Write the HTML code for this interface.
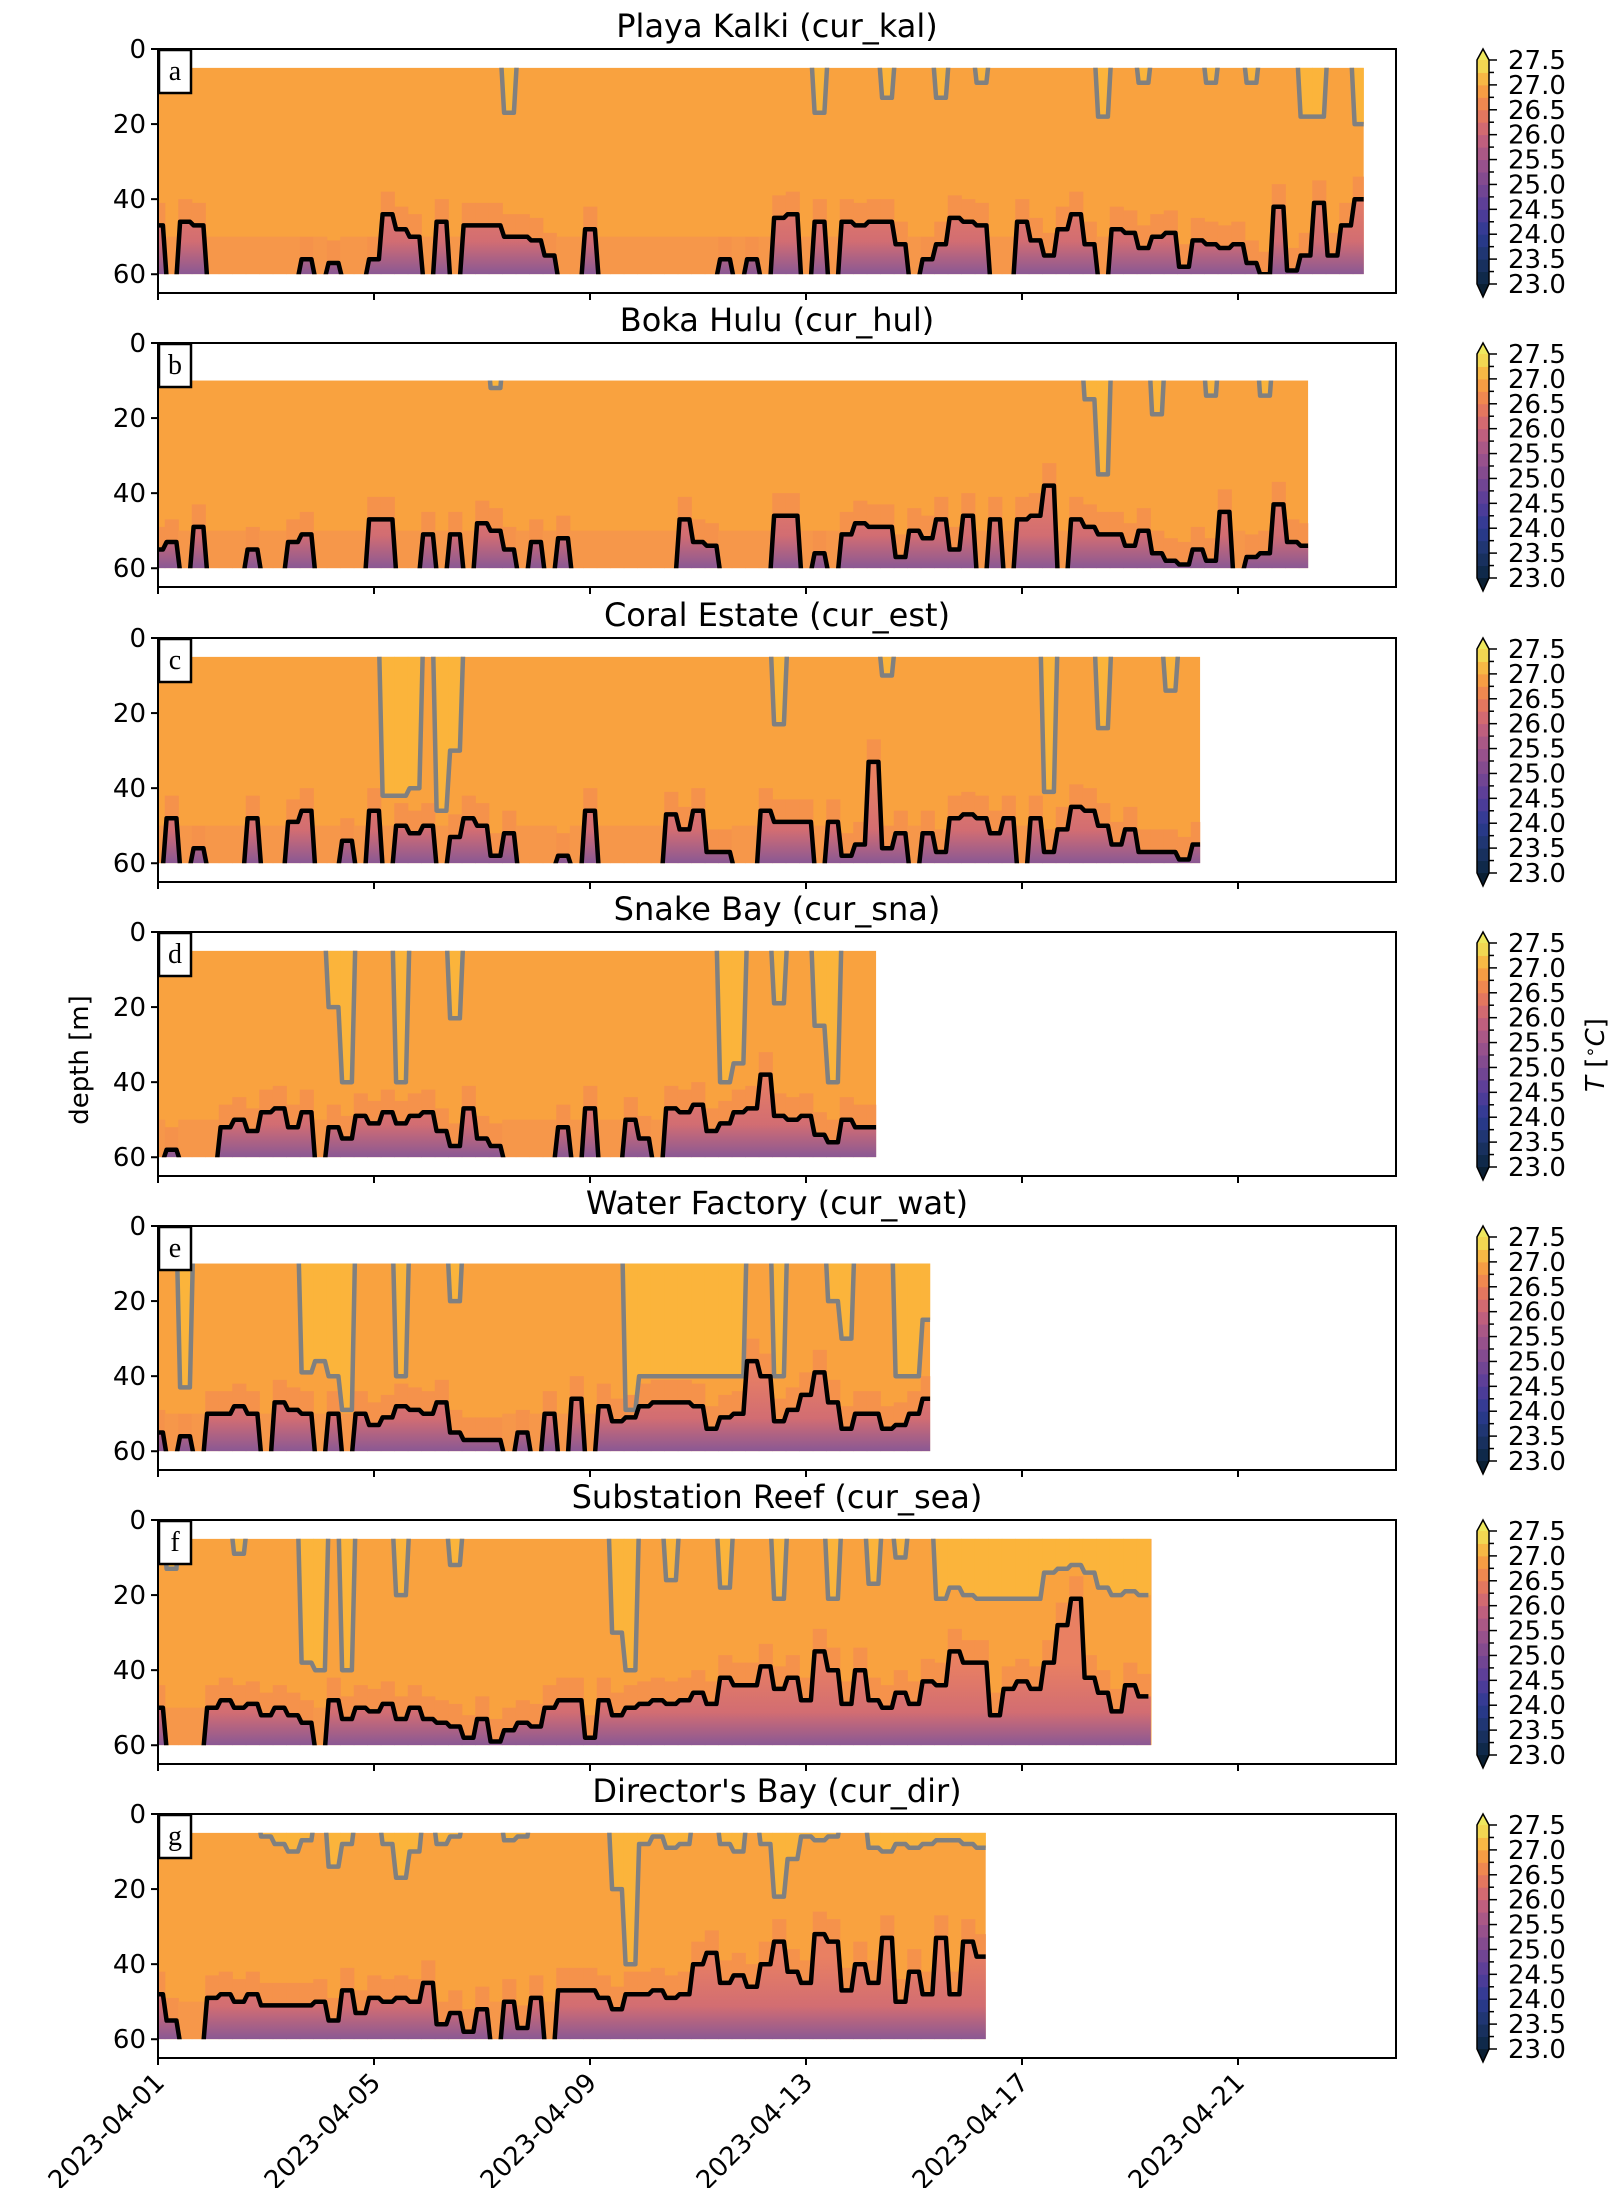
<!DOCTYPE html>
<html><head><meta charset="utf-8"><style>
html,body{margin:0;padding:0;background:#fff}
svg text{font-family:"DejaVu Sans","Liberation Sans",sans-serif;fill:#000}
</style></head><body>
<svg id="fig" xmlns="http://www.w3.org/2000/svg" width="1612" height="2188" viewBox="0 0 1612 2188"></svg>
<script>
// ---- data (depth in m; black = 26 C isotherm, 61 = absent; gray = 27 C isotherm, 0 = absent), 4 samples per day ----
const titles = ["Playa Kalki (cur_kal)","Boka Hulu (cur_hul)","Coral Estate (cur_est)","Snake Bay (cur_sna)","Water Factory (cur_wat)","Substation Reef (cur_sea)","Director's Bay (cur_dir)"];
const letters = ["a","b","c","d","e","f","g"];
const topDepths = [5,10,5,5,10,5,5];
const endDays = [22.33,21.3,19.3,13.3,14.3,18.4,15.33];
const blackA = [47,61,46,47,61,61,61,61,61,61,61,56,61,57,61,61,56,44,48,50,61,46,61,47,47,47,50,50,51,55,61,61,48,61,61,61,61,61,61,61,61,61,56,61,56,61,45,44,61,46,61,46,47,46,46,52,61,56,52,45,46,47,61,61,46,51,55,48,44,52,61,48,49,53,50,49,58,51,52,53,52,57,60,42,59,55,41,55,47,40];
const grayA = [0,0,0,0,0,0,0,0,0,0,0,0,0,0,0,0,0,0,0,0,0,0,0,0,0,0,17,0,0,0,0,0,0,0,0,0,0,0,0,0,0,0,0,0,0,0,0,0,0,17,0,0,0,0,13,0,0,0,13,0,0,9,0,0,0,0,0,0,0,0,18,0,0,9,0,0,0,0,9,0,0,9,0,0,0,18,18,0,0,20];
const blackB = [55,53,61,49,61,61,61,55,61,61,53,51,61,61,61,61,47,47,61,61,51,61,51,61,48,50,55,61,53,61,52,61,61,61,61,61,61,61,61,47,53,54,61,61,61,61,46,46,61,56,61,51,48,49,49,57,50,52,47,55,46,61,47,61,47,46,38,61,47,49,51,51,54,50,56,58,59,55,58,45,61,57,56,43,53,54];
const grayB = [0,0,0,0,0,0,0,0,0,0,0,0,0,0,0,0,0,0,0,0,0,0,0,0,0,12,0,0,0,0,0,0,0,0,0,0,0,0,0,0,0,0,0,0,0,0,0,0,0,0,0,0,0,0,0,0,0,0,0,0,0,0,0,0,0,0,0,0,0,15,35,0,0,0,19,0,0,0,14,0,0,0,14,0,0,0];
const blackC = [61,48,61,56,61,61,61,48,61,61,49,46,61,61,54,61,46,61,50,52,50,61,53,48,50,58,52,61,61,61,58,61,46,61,61,61,61,61,47,51,46,57,57,61,61,46,49,49,49,61,49,58,55,33,56,52,61,52,57,48,47,48,52,48,61,48,57,51,45,46,50,55,51,57,57,57,59,55];
const grayC = [0,0,0,0,0,0,0,0,0,0,0,0,0,0,0,0,0,42,42,40,0,46,30,0,0,0,0,0,0,0,0,0,0,0,0,0,0,0,0,0,0,0,0,0,0,0,23,0,0,0,0,0,0,0,10,0,0,0,0,0,0,0,0,0,0,0,41,0,0,0,24,0,0,0,0,14,0,0];
const blackD = [61,58,61,61,61,52,50,53,48,47,52,48,61,52,55,49,51,48,51,49,48,53,57,47,55,57,61,61,61,61,52,61,47,61,61,50,55,61,47,48,46,53,51,48,47,38,49,50,49,54,56,50,52,52];
const grayD = [0,0,0,0,0,0,0,0,0,0,0,0,0,20,40,0,0,0,40,0,0,0,23,0,0,0,0,0,0,0,0,0,0,0,0,0,0,0,0,0,0,0,40,35,0,0,19,0,0,25,40,0,0,0];
const blackE = [55,61,56,61,50,50,48,50,61,47,49,50,61,50,61,50,53,51,48,49,50,47,55,57,57,57,61,55,61,50,61,46,61,48,52,51,48,47,47,47,48,54,51,50,36,40,52,49,45,39,47,54,50,50,54,53,50,46];
const grayE = [0,0,43,0,0,0,0,0,0,0,0,39,36,40,49,0,0,0,40,0,0,0,20,0,0,0,0,0,0,0,0,0,0,0,0,49,40,40,40,40,40,40,40,40,0,0,40,0,0,0,20,30,0,0,0,40,40,25];
const blackF = [50,61,61,61,50,48,50,49,52,50,52,54,61,48,53,50,51,49,53,50,53,54,55,58,53,59,56,54,55,50,48,48,58,48,52,50,49,48,49,48,46,49,42,44,44,39,45,42,48,35,40,49,40,48,50,46,49,43,44,35,38,38,52,45,43,45,38,28,21,42,46,51,44,47];
const grayF = [0,13,0,0,0,0,9,0,0,0,0,38,40,0,40,0,0,0,20,0,0,0,12,0,0,0,0,0,0,0,0,0,0,0,30,40,0,0,16,0,0,0,18,0,0,0,21,0,0,0,21,0,0,17,0,10,0,0,21,18,20,21,21,21,21,21,14,13,12,14,18,20,19,20];
const blackG = [48,55,61,61,49,48,50,48,51,51,51,51,50,55,47,53,49,50,49,50,45,56,53,58,52,61,50,57,49,61,47,47,47,49,52,48,48,47,49,48,40,37,45,43,46,40,34,42,45,32,34,47,40,45,33,50,42,48,33,48,34,38];
const grayG = [0,0,0,0,0,0,0,0,6,8,10,7,0,14,8,0,0,8,17,10,0,8,6,0,0,0,7,6,0,0,0,0,0,0,20,40,8,6,9,8,0,0,8,10,0,8,22,12,6,7,6,0,0,9,10,8,9,8,7,7,8,9];
const blackSeries = [blackA,blackB,blackC,blackD,blackE,blackF,blackG];
const graySeries = [grayA,grayB,grayC,grayD,grayE,grayF,grayG];
const xTickDays = [0,4,8,12,16,20];
const xTickLabels = ["2023-04-01","2023-04-05","2023-04-09","2023-04-13","2023-04-17","2023-04-21"];
const yTicks = [0,20,40,60];
const cbarTicks = [23.0,23.5,24.0,24.5,25.0,25.5,26.0,26.5,27.0,27.5];

// ---- layout ----
const NS="http://www.w3.org/2000/svg";
const svg=document.getElementById('fig');
const X0=158, X1=1396, PXDAY=54, AH=244, YMAX=65;
const tops=[49,343,638,932,1226,1520,1814];
const xs=d=>X0+d*PXDAY;
function mk(tag,attrs,parent){const e=document.createElementNS(NS,tag);for(const k in attrs)e.setAttribute(k,attrs[k]);(parent||svg).appendChild(e);return e;}
const defs=mk('defs',{});
const stops=[[23,'#0b2540'],[23.5,'#1c3468'],[24,'#2c3a92'],[24.5,'#553c9a'],[25,'#7a4890'],[25.5,'#a0548a'],[26,'#c9637a'],[26.5,'#ec7d56'],[27,'#f9a83e'],[27.5,'#f0e658']];
function hex(c){return [1,3,5].map(i=>parseInt(c.substr(i,2),16));}
function cmap(v){for(let i=0;i<stops.length-1;i++){if(v<=stops[i+1][0]){const t=(v-stops[i][0])/(stops[i+1][0]-stops[i][0]);const a=hex(stops[i][1]),b=hex(stops[i+1][1]);return 'rgb('+a.map((x,j)=>Math.round(x+(b[j]-x)*t)).join(',')+')';}}return stops[stops.length-1][1];}
// step-mid path through samples (vertical transitions between samples)
function stepPath(arr,ys,end){
  const q=0.25, w=0.09;
  let d='';
  arr.forEach((v,i)=>{
    const t=i*q;
    const a=Math.max(0,t-w), b=Math.min(end,t+w);
    d+=(i===0?'M':'L')+xs(a).toFixed(1)+','+ys(v).toFixed(1)+' L'+xs(b).toFixed(1)+','+ys(v).toFixed(1)+' ';
  });
  return d;
}

tops.forEach((T,p)=>{
  const ys=d=>T+d*AH/YMAX;
  const g=mk('g',{});
  
  
  const tt=mk('text',{x:(X0+X1)/2,y:T-12,'text-anchor':'middle','font-size':32},g);
  tt.textContent=titles[p];
  
  
  const top=topDepths[p], end=endDays[p];
  const cp=mk('clipPath',{id:'clip'+p},defs);
  mk('rect',{x:xs(0),y:ys(top),width:xs(end)-xs(0),height:ys(60)-ys(top)},cp);
  const gr=mk('linearGradient',{id:'deep'+p,gradientUnits:'userSpaceOnUse',x1:0,x2:0,y1:ys(38),y2:ys(60)},defs);
  mk('stop',{offset:'0','stop-color':'#e98062'},gr);
  mk('stop',{offset:'0.6','stop-color':'#d26d72'},gr);
  mk('stop',{offset:'1','stop-color':'#8a5894'},gr);
  const hm=mk('g',{'clip-path':'url(#clip'+p+')'},g);
  
  
  mk('rect',{x:xs(0),y:ys(top),width:xs(end)-xs(0),height:ys(60)-ys(top),fill:'#f9a23f'},hm);
  const bl=blackSeries[p], gy=graySeries[p];
  const cw=PXDAY/4;
  bl.forEach((v,i)=>{
    const cx=xs(i/4)-cw/2;
    if(gy[i]>top){mk('rect',{x:cx,y:ys(top),width:cw+0.6,height:ys(gy[i])-ys(top),fill:'#fbb43b'},hm);}
    if(v<=60){
      mk('rect',{x:cx,y:ys(v-6),width:cw+0.6,height:ys(v)-ys(v-6),fill:'#f5924b'},hm);
      mk('rect',{x:cx,y:ys(v),width:cw+0.6,height:ys(60)-ys(v),fill:'url(#deep'+p+')'},hm);
    } else {
      mk('rect',{x:cx,y:ys(50),width:cw+0.6,height:ys(60)-ys(50),fill:'#f6974a'},hm);
    }
  });
  const lg=mk('g',{'clip-path':'url(#clip'+p+')'},g);
  const gl=mk('path',{d:stepPath(gy,ys,end),fill:'none',stroke:'#808080','stroke-width':4.5,'stroke-linejoin':'round'},lg);
  
  
  const bk=mk('path',{d:stepPath(bl,ys,end),fill:'none',stroke:'#000','stroke-width':4.5,'stroke-linejoin':'round'},lg);
  
  
  const fr=mk('rect',{x:X0,y:T,width:X1-X0,height:AH,fill:'none',stroke:'#000','stroke-width':2},g);
  
  
  yTicks.forEach(d=>{
    mk('line',{x1:X0-7,x2:X0,y1:ys(d),y2:ys(d),stroke:'#000','stroke-width':2},g);
    const t=mk('text',{x:X0-12,y:ys(d)+9,'text-anchor':'end','font-size':26},g);
    t.textContent=d;
    
    
  });
  xTickDays.forEach(d=>{mk('line',{x1:xs(d),x2:xs(d),y1:T+AH,y2:T+AH+7,stroke:'#000','stroke-width':2},g);});
  const lb=mk('g',{},g);
  
  
  mk('rect',{x:X0+1,y:T+1,width:32,height:43,fill:'#fff',stroke:'#000','stroke-width':2.5},lb);
  const lt=mk('text',{x:X0+17,y:T+31,'text-anchor':'middle','font-size':28},lb);
  lt.setAttribute('style','font-family:"Liberation Serif","DejaVu Serif",serif');
  lt.textContent=letters[p];
  const cb=mk('g',{},g);
  
  
  const cx0=1477,cx1=1489,cy0=T+11,cy1=T+235;
  const cy=v=>cy1-(v-23)/4.5*(cy1-cy0);
  for(let k=0;k<18;k++){const v0=23+k*0.25;mk('rect',{x:cx0,y:cy(v0+0.25),width:cx1-cx0,height:cy(v0)-cy(v0+0.25)+0.5,fill:cmap(v0+0.125)},cb);}
  mk('polygon',{points:`${cx0},${cy0} ${(cx0+cx1)/2},${T} ${cx1},${cy0}`,fill:'#eee85e'},cb);
  mk('polygon',{points:`${cx0},${cy1} ${(cx0+cx1)/2},${T+248} ${cx1},${cy1}`,fill:'#0a1f33'},cb);
  mk('polygon',{points:`${cx0},${cy0} ${(cx0+cx1)/2},${T} ${cx1},${cy0} ${cx1},${cy1} ${(cx0+cx1)/2},${T+248} ${cx0},${cy1}`,fill:'none',stroke:'#000','stroke-width':1.5},cb);
  for(let k=0;k<=18;k++){const v=23+k*0.25;mk('line',{x1:cx1,x2:cx1+(k%2?5:8),y1:cy(v),y2:cy(v),stroke:'#000','stroke-width':1.5},cb);}
  cbarTicks.forEach(v=>{const t=mk('text',{x:1508,y:cy(v)+9,'font-size':26},cb);t.textContent=v.toFixed(1);
    
    });
});
const B=tops[6]+AH;
xTickDays.forEach((d,i)=>{
  const x=xs(d)+8,y=B+26;
  const t=mk('text',{x:x,y:y,'text-anchor':'end','font-size':26,transform:`rotate(-45 ${x} ${y})`});
  t.textContent=xTickLabels[i];
  
  
});
const yl=mk('text',{x:88,y:1060,'text-anchor':'middle','font-size':26,transform:'rotate(-90 88 1060)'});
yl.textContent='depth [m]';


const cl=mk('text',{x:1604,y:1055,'text-anchor':'middle','font-size':26,transform:'rotate(-90 1604 1055)'});
cl.innerHTML='<tspan font-style="italic">T</tspan> [<tspan dy="-8" font-size="18">∘</tspan><tspan dy="8" font-style="italic">C</tspan>]';


</script>
</body></html>
